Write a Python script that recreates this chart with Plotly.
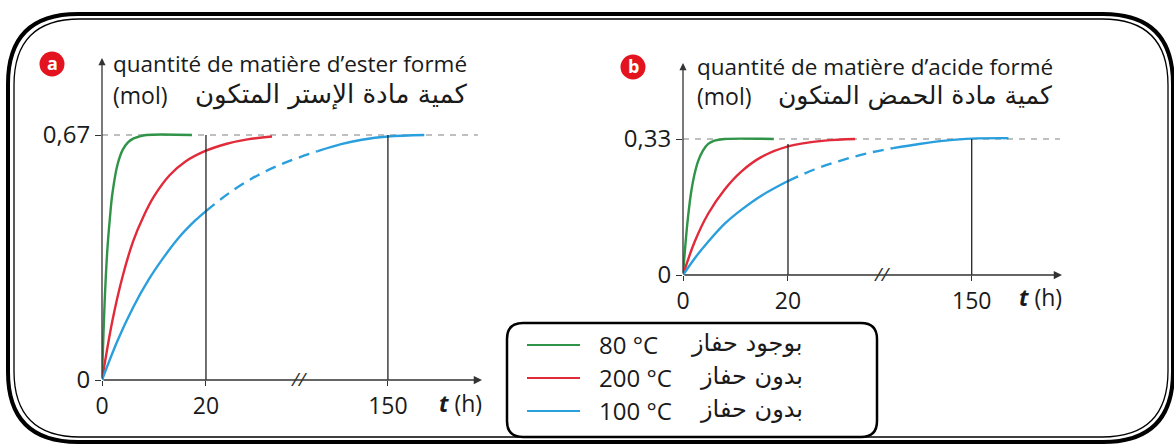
import plotly.graph_objects as go

# ---------------- data (real hours, mol) ----------------
TICK_T = [0, 20, 150]
TICK_LABELS = ["0", "20", "150"]
BREAK_T = 20          # axis is compressed after this time
BREAK_SCALE = 35 / 130  # 20..150 h drawn over 35 display units

# panel a : ester
A_YMAX = 0.67
A_Y_LABELS = ["0", "0,67"]
a_green_t = [0, 0.5, 1, 1.5, 2, 3, 4, 5, 6, 7, 8.5, 17.3]
a_green_y = [0, 0.21, 0.35, 0.44, 0.51, 0.59, 0.63, 0.65, 0.66, 0.665, 0.67, 0.67]
a_red_t = [0, 2, 4, 6, 8, 10, 13, 16, 20, 34.9, 49.7, 67.2]
a_red_y = [0, 0.162, 0.285, 0.38, 0.448, 0.502, 0.56, 0.597, 0.627, 0.646, 0.658, 0.666]
a_blue_t1 = [0, 3, 6, 9, 12, 15, 18, 20]
a_blue_y1 = [0, 0.108, 0.199, 0.275, 0.338, 0.393, 0.437, 0.462]
a_blue_t2 = [20, 38.6, 57.1, 75.7, 99.9]
a_blue_y2 = [0.462, 0.517, 0.560, 0.593, 0.626]
a_blue_t3 = [99.9, 116.6, 131.4, 150, 176]
a_blue_y3 = [0.626, 0.645, 0.657, 0.666, 0.67]
a_vlines = [(20, 0.67), (150, 0.67)]

# panel b : acide
B_YMAX = 0.33
B_Y_LABELS = ["0", "0,33"]
b_green_t = [0, 0.5, 0.95, 1.6, 2.2, 2.9, 3.8, 4.8, 6, 7.9, 17.3]
b_green_y = [0, 0.08, 0.14, 0.205, 0.245, 0.277, 0.302, 0.318, 0.326, 0.33, 0.33]
b_red_t = [0, 2.2, 4.76, 7.9, 11.1, 14.9, 20, 46, 67.5]
b_red_y = [0, 0.08, 0.148, 0.207, 0.251, 0.286, 0.312, 0.326, 0.33]
b_blue_t1 = [0, 2.5, 4.76, 8, 11.1, 15, 20]
b_blue_y1 = [0, 0.045, 0.080, 0.125, 0.158, 0.193, 0.228]
b_blue_t2 = [20, 38.6, 56.8, 75.7, 94.3]
b_blue_y2 = [0.228, 0.256, 0.277, 0.295, 0.308]
b_blue_t3 = [94.3, 112.9, 131.4, 150, 176]
b_blue_y3 = [0.308, 0.318, 0.326, 0.331, 0.332]
b_vlines = [(20, 0.318), (150, 0.33)]

LEG_TEMPS = ["80 °C", "200 °C", "100 °C"]
LEG_AR = ["بوجود حفاز", "بدون حفاز", "بدون حفاز"]

GREEN, RED, BLUE = "#2f9447", "#e12a3a", "#2a9fdd"
FONT = "Open Sans, DejaVu Sans, sans-serif"
AR_FONT = "DejaVu Sans, sans-serif"

W, H = 1174, 444


def disp(t):
    return [v if v <= BREAK_T else BREAK_T + (v - BREAK_T) * BREAK_SCALE for v in t]


def X(px):
    return px / W


def Y(py):
    return 1 - py / H


fig = go.Figure()

panels = [
    dict(xa="x", ya="y", green=(a_green_t, a_green_y), red=(a_red_t, a_red_y),
         blue=[(a_blue_t1, a_blue_y1, "solid"), (a_blue_t2, a_blue_y2, "11px,7px"),
               (a_blue_t3, a_blue_y3, "solid")]),
    dict(xa="x2", ya="y2", green=(b_green_t, b_green_y), red=(b_red_t, b_red_y),
         blue=[(b_blue_t1, b_blue_y1, "solid"), (b_blue_t2, b_blue_y2, "11px,7px"),
               (b_blue_t3, b_blue_y3, "solid")]),
]

for p in panels:
    for (t, y), c in [(p["green"], GREEN), (p["red"], RED)]:
        fig.add_trace(go.Scatter(x=disp(t), y=y, mode="lines", xaxis=p["xa"], yaxis=p["ya"],
                                 line=dict(color=c, width=2.4, shape="spline", smoothing=1.0),
                                 cliponaxis=False, showlegend=False, hoverinfo="skip"))
    for t, y, d in p["blue"]:
        fig.add_trace(go.Scatter(x=disp(t), y=y, mode="lines", xaxis=p["xa"], yaxis=p["ya"],
                                 line=dict(color=BLUE, width=2.4, dash=d, shape="spline", smoothing=1.0),
                                 cliponaxis=False, showlegend=False, hoverinfo="skip"))

# axis geometry (pixels of the picture)
A_XR, B_XR = 73.1, 72.2
A_YTOP = A_YMAX * (380 - 58) / (380 - 135)
B_YTOP = B_YMAX * (275 - 63) / (275 - 139)

common_x = dict(showgrid=False, zeroline=False, showline=False, ticks="outside", ticklen=5,
                tickcolor="#333", tickfont=dict(family=FONT, size=23, color="#1a1a1a"),
                tickvals=disp(TICK_T), ticktext=TICK_LABELS, fixedrange=True, automargin=False)
common_y = dict(showgrid=False, zeroline=False, showline=False, ticks="outside", ticklen=6,
                tickcolor="#333", tickfont=dict(family=FONT, size=24, color="#1a1a1a"),
                fixedrange=True, automargin=False)

fig.update_layout(
    width=W, height=H, margin=dict(l=0, r=0, t=0, b=0, pad=0),
    paper_bgcolor="white", plot_bgcolor="rgba(0,0,0,0)",
    font=dict(family=FONT, color="#1a1a1a"),
    xaxis=dict(domain=[X(102), X(482)], range=[0, A_XR], anchor="y", **common_x),
    yaxis=dict(domain=[Y(380), Y(58)], range=[0, A_YTOP], anchor="x",
               tickvals=[0, A_YMAX], ticktext=A_Y_LABELS, **common_y),
    xaxis2=dict(domain=[X(683), X(1062)], range=[0, B_XR], anchor="y2", **common_x),
    yaxis2=dict(domain=[Y(275), Y(63)], range=[0, B_YTOP], anchor="x2",
                tickvals=[0, B_YMAX], ticktext=B_Y_LABELS, **common_y),
)

shapes = []
annos = []

for xa, ya, ymax, xr, ytop, vls, dash_end in [
    ("x", "y", A_YMAX, A_XR, A_YTOP, a_vlines, 72.3),
    ("x2", "y2", B_YMAX, B_XR, B_YTOP, b_vlines, 71.8),
]:
    # dashed asymptote
    shapes.append(dict(type="line", xref=xa, yref=ya, x0=0, x1=dash_end, y0=ymax, y1=ymax,
                       line=dict(color="#aaaaaa", width=1.3, dash="6px,6px"), layer="below"))
    # vertical marker lines
    for t, top in vls:
        xv = disp([t])[0]
        shapes.append(dict(type="line", xref=xa, yref=ya, x0=xv, x1=xv, y0=0, y1=top,
                           line=dict(color="#222", width=1.3)))
    # axes with arrows
    annos.append(dict(x=xr, y=0, ax=0, ay=0, xref=xa, yref=ya, axref=xa, ayref=ya, text="",
                      showarrow=True, arrowhead=2, arrowsize=1.1, arrowwidth=1.5, arrowcolor="#333"))
    annos.append(dict(x=0, y=ytop, ax=0, ay=0, xref=xa, yref=ya, axref=xa, ayref=ya, text="",
                      showarrow=True, arrowhead=2, arrowsize=1.1, arrowwidth=1.3, arrowcolor="#333"))
    # axis break
    annos.append(dict(x=38, y=0, xref=xa, yref=ya, text="<i>//</i>", showarrow=False, yshift=1,
                      font=dict(family=FONT, size=19, color="#333")))


def txt(px, py, text, size=22.5, xanchor="left", color="#1a1a1a", family=FONT):
    annos.append(dict(x=X(px), y=Y(py), xref="paper", yref="paper", text=text, showarrow=False,
                      xanchor=xanchor, yanchor="middle", font=dict(family=family, size=size, color=color)))


# axis titles
txt(111, 64, "quantité de matière d’ester formé")
txt(111, 95, "(mol)", size=23)
txt(470, 94, "كمية مادة الإستر المتكون", size=26, xanchor="right", family=AR_FONT)
txt(460, 403, "<b><i>t</i></b> (h)", size=23, xanchor="center")

txt(695, 66, "quantité de matière d’acide formé")
txt(695, 96, "(mol)", size=23)
txt(1054, 95, "كمية مادة الحمض المتكون", size=25, xanchor="right", family=AR_FONT)
txt(1040, 297, "<b><i>t</i></b> (h)", size=23, xanchor="center")

# badges
for cx, cy, lab in [(52, 64, "a"), (633, 67, "b")]:
    shapes.append(dict(type="circle", xref="paper", yref="paper", x0=X(cx - 12.5), x1=X(cx + 12.5),
                       y0=Y(cy + 12.5), y1=Y(cy - 12.5), fillcolor="#e3141f", line=dict(width=0)))
    txt(cx, cy - 1, "<b>%s</b>" % lab, size=18, xanchor="center", color="white")


def rounded(x0, y0, x1, y1, r):
    return ("M %f,%f L %f,%f Q %f,%f %f,%f L %f,%f Q %f,%f %f,%f L %f,%f Q %f,%f %f,%f "
            "L %f,%f Q %f,%f %f,%f Z" % (
                X(x0 + r), Y(y0), X(x1 - r), Y(y0), X(x1), Y(y0), X(x1), Y(y0 + r),
                X(x1), Y(y1 - r), X(x1), Y(y1), X(x1 - r), Y(y1),
                X(x0 + r), Y(y1), X(x0), Y(y1), X(x0), Y(y1 - r),
                X(x0), Y(y0 + r), X(x0), Y(y0), X(x0 + r), Y(y0)))


# outer frame (double)
shapes.append(dict(type="path", xref="paper", yref="paper", path=rounded(8, 14, 1173, 442, 70),
                   line=dict(color="black", width=4)))
shapes.append(dict(type="path", xref="paper", yref="paper", path=rounded(14, 19, 1168, 437, 66),
                   line=dict(color="black", width=1.3)))

# legend box
shapes.append(dict(type="path", xref="paper", yref="paper", path=rounded(507, 323, 877, 437, 16),
                   line=dict(color="black", width=2.5), fillcolor="white"))
for i, (c, temp, ar) in enumerate(zip([GREEN, RED, BLUE], LEG_TEMPS, LEG_AR)):
    yy = 344 + i * 33
    shapes.append(dict(type="line", xref="paper", yref="paper", x0=X(527), x1=X(580),
                       y0=Y(yy + 1), y1=Y(yy + 1), line=dict(color=c, width=2.2)))
    txt(597, yy, temp, size=24)
    txt(805, yy - 1, ar, size=24, xanchor="right", family=AR_FONT)

fig.update_layout(shapes=shapes, annotations=annos)
fig.write_html("out.html", post_script="document.body.style.margin='0px';",
               config={"displayModeBar": False})
